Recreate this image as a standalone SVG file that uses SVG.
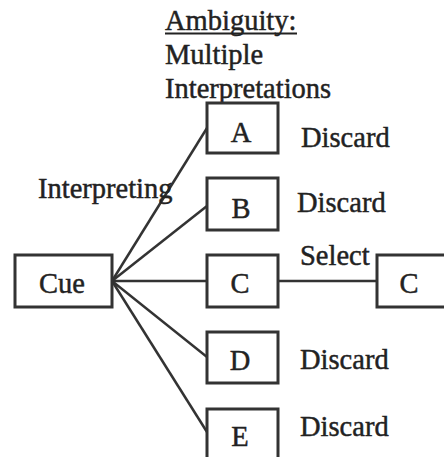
<svg xmlns="http://www.w3.org/2000/svg" width="444" height="457" viewBox="0 0 444 457">
<style>
text{font-family:"Liberation Serif","Times New Roman",serif;font-size:28.5px;fill:#222;stroke:#222;stroke-width:0.45;}
.box{fill:#fff;stroke:#333;stroke-width:3;}
.ln{stroke:#333;stroke-width:2.5;fill:none;}
.c{text-anchor:middle;}
</style>
<rect width="444" height="457" fill="#fff"/>
<g id="title">
<text x="165" y="30">Ambiguity:</text>
<line x1="165" y1="33.5" x2="297" y2="33.5" stroke="#222" stroke-width="2"/>
<text x="165" y="64">Multiple</text>
<text x="165" y="98">Interpretations</text>
</g>
<g id="connectors">
<line class="ln" x1="112" y1="281" x2="207" y2="128"/>
<line class="ln" x1="112" y1="281" x2="207" y2="206"/>
<line class="ln" x1="112" y1="281" x2="207" y2="281"/>
<line class="ln" x1="112" y1="281" x2="207" y2="357"/>
<line class="ln" x1="112" y1="281" x2="207" y2="432"/>
<line class="ln" x1="279" y1="281" x2="377" y2="281"/>
</g>
<g id="label-interpreting"><text x="38" y="198">Interpreting</text></g>
<g id="label-select"><text x="300" y="265">Select</text></g>
<g id="cue"><rect class="box" x="15" y="255" width="97" height="52"/><text class="c" x="62" y="293">Cue</text></g>
<g id="a"><rect class="box" x="207" y="103" width="71" height="50"/><text class="c" x="241" y="142">A</text></g>
<g id="b"><rect class="box" x="207" y="178" width="71" height="52"/><text class="c" x="241" y="218">B</text></g>
<g id="c"><rect class="box" x="207" y="255" width="71" height="52"/><text class="c" x="240" y="293">C</text></g>
<g id="d"><rect class="box" x="207" y="332" width="71" height="51"/><text class="c" x="240" y="370">D</text></g>
<g id="e"><rect class="box" x="207" y="409" width="71" height="52"/><text class="c" x="240" y="446">E</text></g>
<g id="c2"><rect class="box" x="377" y="255" width="72" height="52"/><text class="c" x="409" y="293">C</text></g>
<g id="discards">
<text x="301" y="147">Discard</text>
<text x="297" y="212">Discard</text>
<text x="300" y="369">Discard</text>
<text x="300" y="436">Discard</text>
</g>
</svg>
